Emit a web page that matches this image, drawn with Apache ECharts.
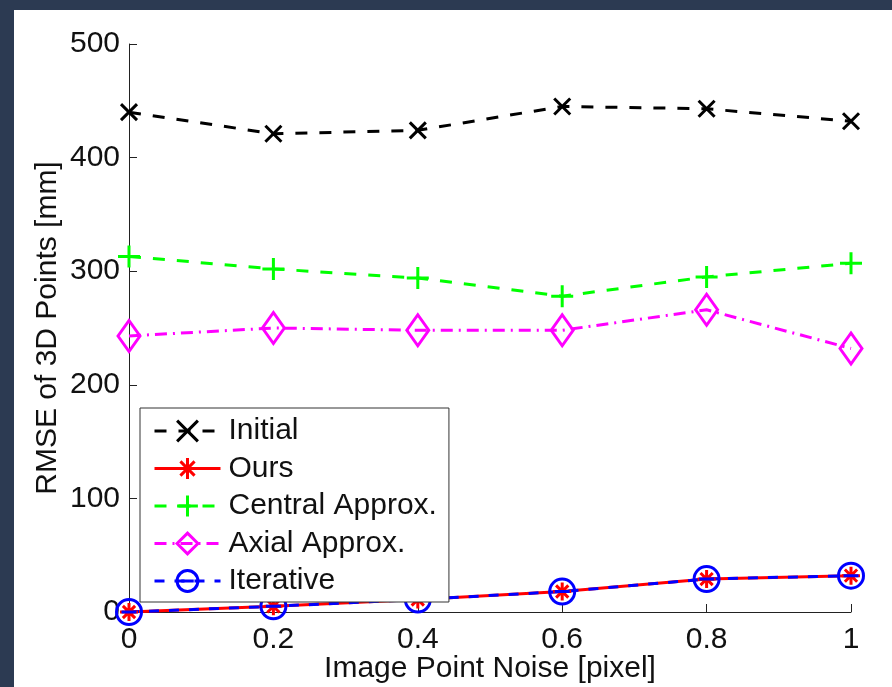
<!DOCTYPE html>
<html>
<head>
<meta charset="utf-8">
<script src="https://cdn.jsdelivr.net/npm/echarts@6/dist/echarts.min.js"></script>
<style>
	html, body {
		margin: 0;
		padding: 0;
		width: 892px;
		height: 687px;
		background: #2c3a52;
		overflow: hidden;
	}
	.chartBox {
		position: absolute;
		left: 14px;
		top: 10px;
		width: 878px;
		height: 677px;
		background: #ffffff;
	}
</style>
</head>
<body>
<div class="chartBox" id="chartBox"></div>
<script>
// 数据
const noise = [0, 0.2, 0.4, 0.6, 0.8, 1];
const initialData = [440, 421, 424, 445, 443, 432];
const oursData = [0, 5, 11, 18, 29, 32];
const centralData = [313, 302, 294, 278, 295, 307];
const axialData = [243, 250, 248, 248, 266, 232];
const iterativeData = [0, 5, 11, 18, 29, 32];
const yTicks = [0, 100, 200, 300, 400, 500];

const fontFamily = '"Liberation Sans", Arial, sans-serif';
const textColor = '#111';

function pairs(vals) {
	return noise.map((x, i) => [x, vals[i]]);
}

// 符号
const SYM_X = 'path://M0,0L10,10M10,0L0,10';
const SYM_PLUS = 'path://M5,0L5,10M0,5L10,5';
const SYM_STAR = 'path://M5,0L5,10M0,5L10,5M1.6,1.6L8.4,8.4M8.4,1.6L1.6,8.4';
const SYM_DIAMOND = 'path://M5,0L10,7L5,14L0,7Z';
const SYM_CIRCLE = 'path://M0,10A10,10,0,1,1,20,10A10,10,0,1,1,0,10ZM4,10L16,10';

function makeSeries(name, data, color, symbol, size, dash) {
	return {
		name: name,
		type: 'line',
		data: pairs(data),
		symbol: symbol,
		symbolSize: size,
		showAllSymbol: true,
		animation: false,
		emphasis: { disabled: true },
		lineStyle: {
			color: color,
			width: 3,
			type: dash
		},
		itemStyle: {
			color: 'rgba(0,0,0,0)',
			borderColor: color,
			borderWidth: 3
		}
	};
}

const chart = echarts.init(document.getElementById('chartBox'));
chart.setOption({
	animation: false,
	textStyle: { fontFamily: fontFamily },
	grid: {
		left: 115,
		right: 41,
		top: 34,
		bottom: 75,
		containLabel: false,
		outerBoundsMode: 'none'
	},
	xAxis: {
		type: 'value',
		min: 0,
		max: 1,
		interval: 0.2,
		name: 'Image Point Noise [pixel]',
		nameLocation: 'middle',
		nameGap: 42,
		nameMoveOverlap: false,
		nameTextStyle: { fontSize: 30, color: textColor, fontFamily: fontFamily },
		axisLine: { show: true, lineStyle: { color: '#222', width: 1 } },
		axisTick: { show: true, inside: true, length: 8, lineStyle: { color: '#222' } },
		axisLabel: { fontSize: 30, color: textColor, margin: 13, fontFamily: fontFamily },
		splitLine: { show: false }
	},
	yAxis: {
		type: 'value',
		min: yTicks[0],
		max: yTicks[yTicks.length - 1],
		interval: 100,
		name: 'RMSE of 3D Points [mm]',
		nameLocation: 'middle',
		nameGap: 66,
		nameMoveOverlap: false,
		nameTextStyle: { fontSize: 30, color: textColor, fontFamily: fontFamily },
		axisLine: { show: true, lineStyle: { color: '#222', width: 1 } },
		axisTick: { show: true, inside: true, length: 8, lineStyle: { color: '#222' } },
		axisLabel: { fontSize: 30, color: textColor, margin: 9, fontFamily: fontFamily },
		splitLine: { show: false }
	},
	legend: {
		orient: 'vertical',
		left: 126,
		top: 398,
		padding: [8, 12, 6, 13],
		itemWidth: 66,
		itemHeight: 26,
		itemGap: 7.5,
		backgroundColor: '#fff',
		borderColor: '#333',
		borderWidth: 1,
		borderRadius: 0,
		lineStyle: { width: 3 },
		itemStyle: { borderWidth: 3 },
		textStyle: {
			fontSize: 30,
			lineHeight: 30,
			color: textColor,
			fontFamily: fontFamily,
			padding: [0, 0, 0, 3]
		},
		data: ['Initial', 'Ours', 'Central Approx.', 'Axial Approx.', 'Iterative']
	},
	series: [
		makeSeries('Initial', initialData, '#000000', SYM_X, 16, [12, 12]),
		makeSeries('Ours', oursData, '#ff0000', SYM_STAR, 18, 'solid'),
		makeSeries('Central Approx.', centralData, '#00ff00', SYM_PLUS, 22, [12, 12]),
		makeSeries('Axial Approx.', axialData, '#ff00ff', SYM_DIAMOND, [22, 31], [12, 6, 2, 6]),
		makeSeries('Iterative', iterativeData, '#0000ff', SYM_CIRCLE, 25, [10, 10])
	]
});
</script>
</body>
</html>
